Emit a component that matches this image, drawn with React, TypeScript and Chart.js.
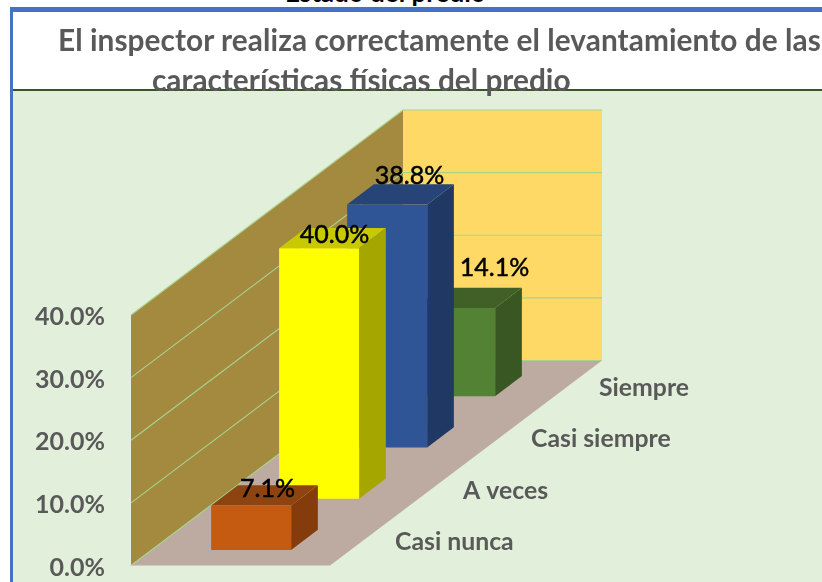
import { useEffect, useRef } from "react";
import { Chart, registerables } from "chart.js";

Chart.register(...registerables);

const categories = ["Casi nunca", "A veces", "Casi siempre", "Siempre"];
const percentValues = [7.1, 40.0, 38.8, 14.1];
const tickValues = [0, 10, 20, 30, 40];
const frontColors = ["#C55A11", "#FFFF00", "#2F5597", "#548235"];
const topColors = ["#8E4410", "#C9C900", "#264478", "#406028"];
const sideColors = ["#843C0C", "#A6A600", "#203864", "#385723"];
const labelOffsets = [[3, -6], [2, -3], [9, -18], [26, -30]];
const titleLines = [
  "El inspector realiza correctamente el levantamiento de las",
  "características físicas del predio",
];
const clippedHeading = "Estado del predio";

const FONT = "Lato, Carlito, sans-serif";
const GREY = "#595959";
const WALL = "#A38A3F";
const BACK = "#FFD966";
const FLOOR = "#BDABA1";
const PANEL = "#E2EFDA";
const GRID = "#A9D18E";
const WIDTH_PX = 199; // width of the floor along the screen x axis
const DEPTH_PX = 272; // chart area width = depth along the screen x axis
const RISE_PX = 205; // rise of the depth axis
const BAR_FRONT_PX = 80;

const poly = (ctx: CanvasRenderingContext2D, pts: number[][], fill: string) => {
  ctx.beginPath();
  pts.forEach((p, i) => (i ? ctx.lineTo(p[0], p[1]) : ctx.moveTo(p[0], p[1])));
  ctx.closePath();
  ctx.fillStyle = fill;
  ctx.fill();
};

const box3d = {
  id: "box3d",
  beforeDatasetDraw(chart: any) {
    const { ctx, chartArea, scales } = chart;
    const { left, right } = chartArea;
    const yS = scales.y;
    const base = yS.getPixelForValue(0);
    const top = yS.getPixelForValue(40);
    const ratio = RISE_PX / DEPTH_PX;
    ctx.save();

    // walls and floor
    poly(ctx, [[left, base], [left + WIDTH_PX, base], [right + WIDTH_PX, base - RISE_PX], [right, base - RISE_PX]], FLOOR);
    poly(ctx, [[right, top - RISE_PX], [right + WIDTH_PX, top - RISE_PX], [right + WIDTH_PX, base - RISE_PX], [right, base - RISE_PX]], BACK);
    poly(ctx, [[left, base], [left, top], [right, top - RISE_PX], [right, base - RISE_PX]], WALL);

    // gridlines from the y axis ticks
    ctx.strokeStyle = GRID;
    ctx.lineWidth = 1.2;
    yS.ticks.forEach((t: any) => {
      const y = yS.getPixelForValue(t.value);
      ctx.beginPath();
      ctx.moveTo(left, y);
      ctx.lineTo(right, y - RISE_PX);
      ctx.lineTo(right + WIDTH_PX, y - RISE_PX);
      ctx.stroke();
    });

    // bars, back to front
    const meta = chart.getDatasetMeta(0);
    const els = meta.data as any[];
    for (let i = els.length - 1; i >= 0; i--) {
      const el = els[i];
      const d = el.width;
      const dx = el.x - left;
      const x0 = left + WIDTH_PX / 2 + dx - d / 2 - BAR_FRONT_PX / 2;
      const x1 = x0 + BAR_FRONT_PX;
      const yb = el.base - dx * ratio + (d / 2) * ratio;
      const yt = yb - (el.base - el.y);
      const rise = d * ratio;
      poly(ctx, [[x1, yb], [x1 + d, yb - rise], [x1 + d, yt - rise], [x1, yt]], sideColors[i]);
      poly(ctx, [[x0, yt], [x1, yt], [x1 + d, yt - rise], [x0 + d, yt - rise]], topColors[i]);
      poly(ctx, [[x0, yb], [x1, yb], [x1, yt], [x0, yt]], frontColors[i]);
    }

    // value labels
    ctx.textAlign = "center";
    ctx.textBaseline = "middle";
    ctx.fillStyle = "#000";
    ctx.strokeStyle = "#000";
    ctx.lineWidth = 0.5;
    ctx.font = `25px ${FONT}`;
    els.forEach((el, i) => {
      const d = el.width;
      const dx = el.x - left;
      const cx = left + WIDTH_PX / 2 + dx;
      const yb = el.base - dx * ratio + (d / 2) * ratio;
      const yt = yb - (el.base - el.y);
      const text = `${percentValues[i].toFixed(1)}%`;
      const lx = cx + labelOffsets[i][0];
      const ly = yt - (d * ratio) / 2 + labelOffsets[i][1];
      ctx.fillText(text, lx, ly);
      ctx.strokeText(text, lx, ly);
    });

    // category labels along the floor edge
    ctx.textAlign = "left";
    ctx.fillStyle = GREY;
    ctx.font = `bold 24.8px ${FONT}`;
    els.forEach((el, i) => {
      const dx = el.x - left;
      ctx.fillText(chart.data.labels[i], left + WIDTH_PX + dx + 31, el.base - dx * ratio + 2);
    });

    ctx.restore();
    return false;
  },
};

export default function App() {
  const ref = useRef<HTMLCanvasElement>(null);
  useEffect(() => {
    const chart = new Chart(ref.current!, {
      type: "bar",
      data: {
        labels: categories,
        datasets: [
          {
            label: "Porcentaje",
            data: percentValues,
            backgroundColor: frontColors,
            categoryPercentage: 1,
            barPercentage: 0.393,
          },
        ],
      },
      options: {
        responsive: false,
        animation: false,
        layout: { padding: { left: 0, top: 315, right: 419, bottom: 16.5 } },
        plugins: { legend: { display: false }, tooltip: { enabled: false }, title: { display: false } },
        scales: {
          x: { display: false, offset: true, grid: { display: false } },
          y: {
            min: 0,
            max: 40,
            afterFit: (s: any) => {
              s.width = 131;
              s.paddingTop = 0;
              s.paddingBottom = 0;
            },
            afterBuildTicks: (s: any) => {
              s.ticks = tickValues.map((value) => ({ value }));
            },
            ticks: {
              padding: 26,
              labelOffset: 2,
              color: GREY,
              font: { family: FONT, size: 25, weight: "bold" },
              callback: (v: any) => `${Number(v).toFixed(1)}%`,
            },
            grid: { display: false, drawTicks: false },
            border: { display: false },
          },
        },
      },
      plugins: [box3d],
    } as any);
    return () => chart.destroy();
  }, []);

  const titleStyle: any = {
    position: "absolute",
    whiteSpace: "nowrap",
    fontFamily: FONT,
    fontWeight: 700,
    fontSize: 29.8,
    lineHeight: "30px",
    color: GREY,
  };

  return (
    <div style={{ position: "fixed", left: 0, top: 0, width: 822, height: 582, overflow: "hidden", background: "#fff" }}>
      <div style={{ position: "absolute", left: 285, top: -19, fontFamily: FONT, fontWeight: 700, fontSize: 26, lineHeight: "22px", color: "#000", whiteSpace: "nowrap" }}>
        {clippedHeading}
      </div>
      <div style={{ position: "absolute", left: 10, top: 7, right: 0, height: 5, background: "#4472C4" }} />
      <div style={{ position: "absolute", left: 10, top: 7, bottom: 0, width: 3, background: "#4472C4" }} />
      <div style={{ position: "absolute", left: 13, top: 91, right: 0, bottom: 0, background: PANEL }} />
      <div style={{ position: "absolute", left: 13, top: 89, right: 0, height: 2, background: "#375623" }} />
      <canvas ref={ref} width={822} height={582} style={{ position: "absolute", left: 0, top: 0, width: 822, height: 582 }} />
      <div style={{ ...titleStyle, left: 58, top: 25, letterSpacing: "0.07px" }}>{titleLines[0]}</div>
      <div style={{ ...titleStyle, left: 152, top: 65 }}>{titleLines[1]}</div>
    </div>
  );
}
